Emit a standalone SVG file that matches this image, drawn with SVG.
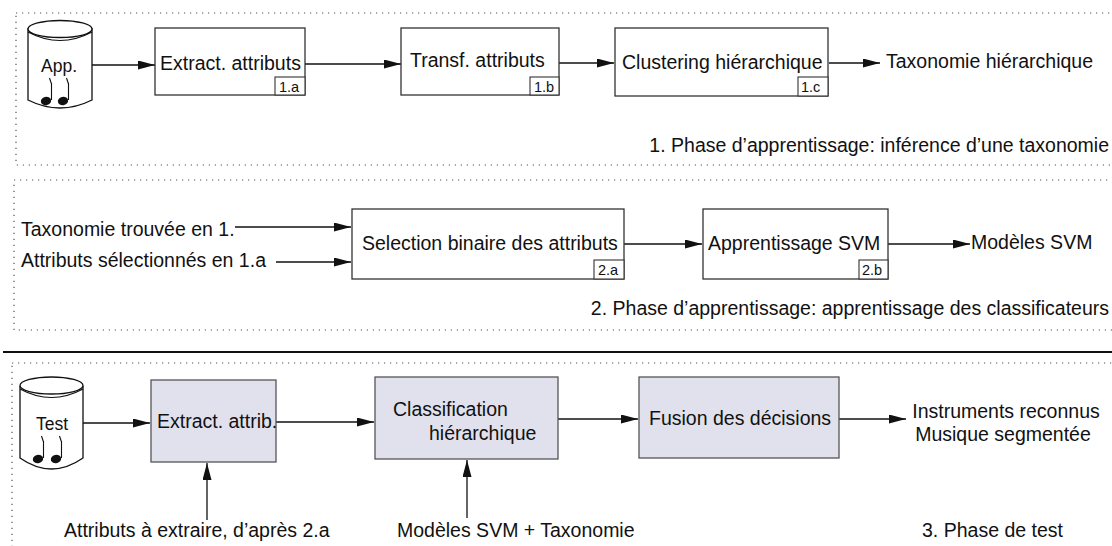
<svg xmlns="http://www.w3.org/2000/svg" width="1112" height="546" viewBox="0 0 1112 546">
<style>
text{font-family:"Liberation Sans",Arial,sans-serif;fill:#111}
.t{font-size:19.5px}
.s{font-size:14.5px}
.c{font-size:17.5px}
.box{fill:#fff;stroke:#333;stroke-width:1.3}
.tbox{fill:#e1e1ed;stroke:#555;stroke-width:1.3}
.tag{fill:#fff;stroke:#333;stroke-width:1.1}
.dot{fill:none;stroke:#555;stroke-width:1.2;stroke-dasharray:1.2 4.8}
.ar{fill:none;stroke:#111;stroke-width:1.3;marker-end:url(#ah)}
.cyl{fill:#fff;stroke:#111;stroke-width:1.3}
</style>
<defs>
<marker id="ah" markerUnits="userSpaceOnUse" markerWidth="18" markerHeight="10" refX="17" refY="4.5" orient="auto">
<path d="M0,0 L17,4.5 L0,9 z" fill="#111"/>
</marker>
<g id="note">
<ellipse cx="0" cy="0" rx="5.2" ry="4.2" transform="rotate(-15)" fill="#111"/>
<path d="M5.5,-1 V-18 M3.5,-23 L5.5,-17" fill="none" stroke="#111" stroke-width="1.1"/>
</g>
</defs>

<g id="frames">
<rect class="dot" x="16" y="13" width="1110" height="152"/>
<rect class="dot" x="14" y="180" width="1110" height="150"/>
<rect class="dot" x="12" y="363" width="1110" height="200"/>
<line x1="3" y1="352" x2="1112" y2="352" stroke="#111" stroke-width="2"/>
</g>

<g id="connectors">
<line class="ar" x1="92" y1="65" x2="155" y2="65"/>
<line class="ar" x1="305" y1="64" x2="401" y2="64"/>
<line class="ar" x1="559" y1="63" x2="614" y2="63"/>
<line class="ar" x1="829" y1="63" x2="880" y2="63"/>
<line class="ar" x1="235" y1="227" x2="351" y2="227"/>
<line class="ar" x1="276" y1="262" x2="351" y2="262"/>
<line class="ar" x1="624" y1="244" x2="702" y2="244"/>
<line class="ar" x1="888" y1="244" x2="970" y2="244"/>
<line class="ar" x1="83" y1="423" x2="150" y2="423"/>
<line class="ar" x1="276" y1="422" x2="374" y2="422"/>
<line class="ar" x1="558" y1="419" x2="638" y2="419"/>
<line class="ar" x1="839" y1="419" x2="906" y2="419"/>
<line class="ar" x1="207" y1="520" x2="207" y2="463"/>
<line class="ar" x1="467" y1="518" x2="467" y2="460"/>
</g>

<g id="app">
<path class="cyl" d="M28,28 V100 Q60,116 92,100 V28"/>
<ellipse class="cyl" cx="60" cy="29" rx="32" ry="8.5"/>
<path d="M28,32 Q60,49 92,32" fill="none" stroke="#111" stroke-width="1.1"/>
<text class="c" x="59" y="72" text-anchor="middle">App.</text>
<use href="#note" x="46" y="101"/>
<use href="#note" x="63" y="101"/>
</g>

<g id="n1a">
<rect class="box" x="155" y="28" width="150" height="67"/>
<text class="t" x="160" y="70">Extract. attributs</text>
<rect class="tag" x="275" y="77" width="30" height="18"/>
<text class="s" x="279" y="92">1.a</text>
</g>

<g id="n1b">
<rect class="box" x="401" y="28" width="158" height="67"/>
<text class="t" x="410" y="67">Transf. attributs</text>
<rect class="tag" x="530" y="77" width="29" height="18"/>
<text class="s" x="534" y="92">1.b</text>
</g>

<g id="n1c">
<rect class="box" x="615" y="28" width="213" height="68"/>
<text class="t" x="622" y="69">Clustering hiérarchique</text>
<rect class="tag" x="798" y="77" width="30" height="19"/>
<text class="s" x="801" y="92">1.c</text>
</g>

<g id="out1">
<text class="t" x="886" y="68">Taxonomie hiérarchique</text>
<text class="t" x="1109" y="152" text-anchor="end">1. Phase d’apprentissage: inférence d’une taxonomie</text>
</g>

<g id="in2">
<text class="t" x="21" y="236">Taxonomie trouvée en 1.</text>
<text class="t" x="21" y="267">Attributs sélectionnés en 1.a</text>
</g>

<g id="n2a">
<rect class="box" x="352" y="209" width="272" height="70"/>
<text class="t" x="362" y="250">Selection binaire des attributs</text>
<rect class="tag" x="594" y="260" width="30" height="19"/>
<text class="s" x="598" y="275">2.a</text>
</g>

<g id="n2b">
<rect class="box" x="703" y="209" width="185" height="70"/>
<text class="t" x="708" y="250">Apprentissage SVM</text>
<rect class="tag" x="859" y="260" width="29" height="19"/>
<text class="s" x="862" y="275">2.b</text>
</g>

<g id="out2">
<text class="t" x="971" y="249">Modèles SVM</text>
<text class="t" x="1109" y="315" text-anchor="end">2. Phase d’apprentissage: apprentissage des classificateurs</text>
</g>

<g id="test">
<path class="cyl" d="M20,386 V458 Q51.5,480 83,458 V386"/>
<ellipse class="cyl" cx="51.5" cy="385.5" rx="31.5" ry="8.5"/>
<path d="M20,389 Q51.5,406 83,389" fill="none" stroke="#111" stroke-width="1.1"/>
<text class="c" x="52" y="430" text-anchor="middle">Test</text>
<use href="#note" x="38" y="459"/>
<use href="#note" x="56" y="459"/>
</g>

<g id="n3a">
<rect class="tbox" x="151" y="380" width="125" height="82"/>
<text class="t" x="157" y="428">Extract. attrib.</text>
</g>

<g id="n3b">
<rect class="tbox" x="375" y="377" width="183" height="82"/>
<text class="t" x="393" y="416">Classification</text>
<text class="t" x="429" y="440">hiérarchique</text>
</g>

<g id="n3c">
<rect class="tbox" x="639" y="377" width="200" height="81"/>
<text class="t" x="649" y="425">Fusion des décisions</text>
</g>

<g id="out3">
<text class="t" x="1006" y="418" text-anchor="middle">Instruments reconnus</text>
<text class="t" x="1003" y="441" text-anchor="middle">Musique segmentée</text>
<text class="t" x="64" y="537">Attributs à extraire, d’après 2.a</text>
<text class="t" x="397" y="537">Modèles SVM + Taxonomie</text>
<text class="t" x="922" y="537">3. Phase de test</text>
</g>
</svg>
